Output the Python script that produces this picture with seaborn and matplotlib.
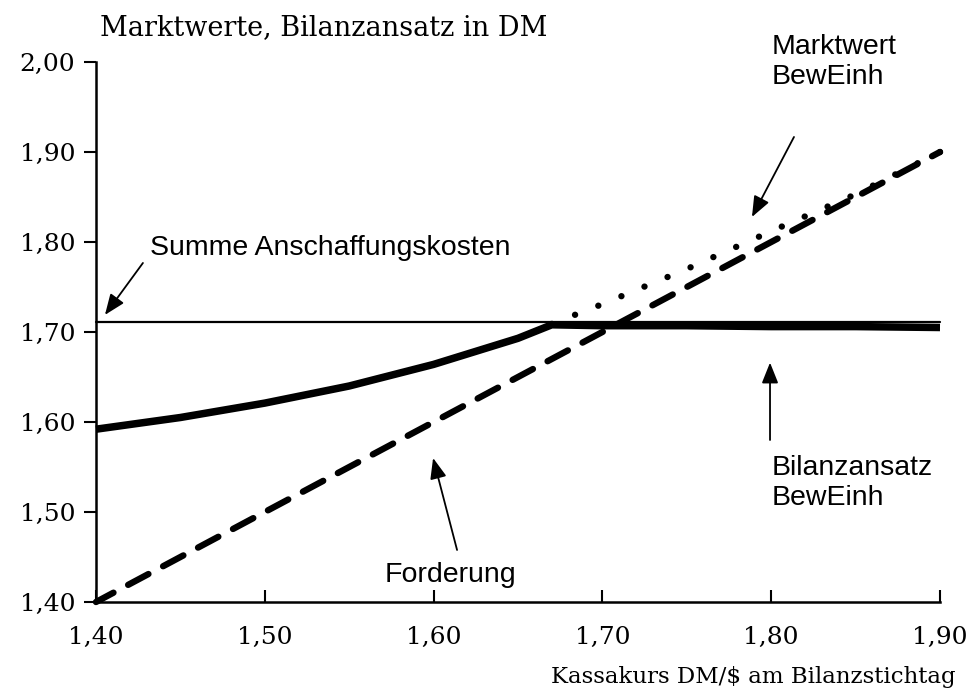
import matplotlib
matplotlib.use("Agg")
import matplotlib.pyplot as plt
import seaborn as sns

# Kassakurs DM/$ (x) and values in DM (y)
kurs = [1.40, 1.45, 1.50, 1.55, 1.60, 1.65, 1.67, 1.70, 1.75, 1.80, 1.85, 1.90]
bilanzansatz = [1.592, 1.605, 1.621, 1.640, 1.664, 1.693, 1.708, 1.707, 1.707, 1.706, 1.706, 1.705]

forderung_kurs = [1.40, 1.50, 1.60, 1.70, 1.80, 1.90]
forderung = [1.40, 1.50, 1.60, 1.70, 1.80, 1.90]

marktwert_kurs = [1.67, 1.70, 1.75, 1.80, 1.85, 1.90]
marktwert = [1.709, 1.731, 1.770, 1.812, 1.853, 1.900]

ak_kurs = [1.40, 1.90]
anschaffungskosten = [1.711, 1.711]

x_ticks = [1.40, 1.50, 1.60, 1.70, 1.80, 1.90]
x_ticklabels = ["1,40", "1,50", "1,60", "1,70", "1,80", "1,90"]
y_ticks = [1.40, 1.50, 1.60, 1.70, 1.80, 1.90, 2.00]
y_ticklabels = ["1,40", "1,50", "1,60", "1,70", "1,80", "1,90", "2,00"]

SERIF = "DejaVu Serif"
SANS = "Liberation Sans"


def main() -> None:
    sns.set_style("white")
    plt.rcParams["font.family"] = [SERIF, "DejaVu Sans"]
    plt.rcParams["text.color"] = "black"
    plt.rcParams["xtick.color"] = "black"
    plt.rcParams["ytick.color"] = "black"
    plt.rcParams["axes.labelcolor"] = "black"

    fig = plt.figure(figsize=(9.68, 6.94), dpi=100)
    ax = fig.add_axes([96 / 968, 1 - 602 / 694, 844 / 968, 540 / 694])

    line_kws = dict(ax=ax, color="black", clip_on=False)
    sns.lineplot(x=ak_kurs, y=anschaffungskosten, linewidth=1.6, **line_kws)
    sns.lineplot(x=forderung_kurs, y=forderung, linewidth=4.6,
                 linestyle=(0.5, (3.6, 2.6)), dash_capstyle="round", **line_kws)
    sns.lineplot(x=marktwert_kurs, y=marktwert, linewidth=4.6,
                 linestyle=(0, (0.01, 3.9)), dash_capstyle="round", **line_kws)
    sns.lineplot(x=kurs, y=bilanzansatz, linewidth=5.4,
                 solid_capstyle="butt", **line_kws)

    ax.set_xlim(1.40, 1.90)
    ax.set_ylim(1.40, 2.00)
    ax.set_xticks(x_ticks, x_ticklabels)
    ax.set_yticks(y_ticks, y_ticklabels)
    ax.tick_params(axis="y", direction="out", length=9, width=1.5,
                   labelsize=18, pad=6, left=True)
    ax.tick_params(axis="x", direction="in", length=9, width=1.5,
                   labelsize=18, pad=17, bottom=True)
    for side in ("top", "right"):
        ax.spines[side].set_visible(False)
    for side in ("left", "bottom"):
        ax.spines[side].set_color("black")
        ax.spines[side].set_linewidth(1.8)
    ax.set_xlabel("")
    ax.set_ylabel("")

    fig.text(100 / 968, 1 - 28 / 694, "Marktwerte, Bilanzansatz in DM",
             fontsize=19.5, ha="left", va="center")
    fig.text(956 / 968, 1 - 677 / 694, r"Kassakurs DM/\$ am Bilanzstichtag",
             fontsize=16.5, ha="right", va="center")

    arrow = dict(arrowstyle="-|>,head_length=0.7,head_width=0.28",
                 color="black", lw=1.3, shrinkA=0, shrinkB=0, mutation_scale=18)
    label_kws = dict(fontsize=20.5, family=SANS, color="black",
                     ha="left", va="center", linespacing=1.2)

    ax.text(1.432, 1.793, "Summe Anschaffungskosten", **label_kws)
    ax.annotate("", xy=(1.4053, 1.719), xytext=(1.4278, 1.7767),
                arrowprops=arrow, annotation_clip=False)

    ax.text(1.8005, 2.000, "Marktwert\nBewEinh", **label_kws)
    ax.annotate("", xy=(1.7886, 1.8278), xytext=(1.8135, 1.9167),
                arrowprops=arrow, annotation_clip=False)

    ax.text(1.8005, 1.532, "Bilanzansatz\nBewEinh", **label_kws)
    ax.annotate("", xy=(1.7993, 1.666), xytext=(1.7993, 1.580),
                arrowprops=arrow, annotation_clip=False)

    ax.text(1.6097, 1.430, "Forderung", fontsize=20.5, family=SANS,
            ha="center", va="center")
    ax.annotate("", xy=(1.5997, 1.560), xytext=(1.6139, 1.4578),
                arrowprops=arrow, annotation_clip=False)

    fig.savefig("out.png", dpi=100, facecolor="white")


if __name__ == "__main__":
    main()
